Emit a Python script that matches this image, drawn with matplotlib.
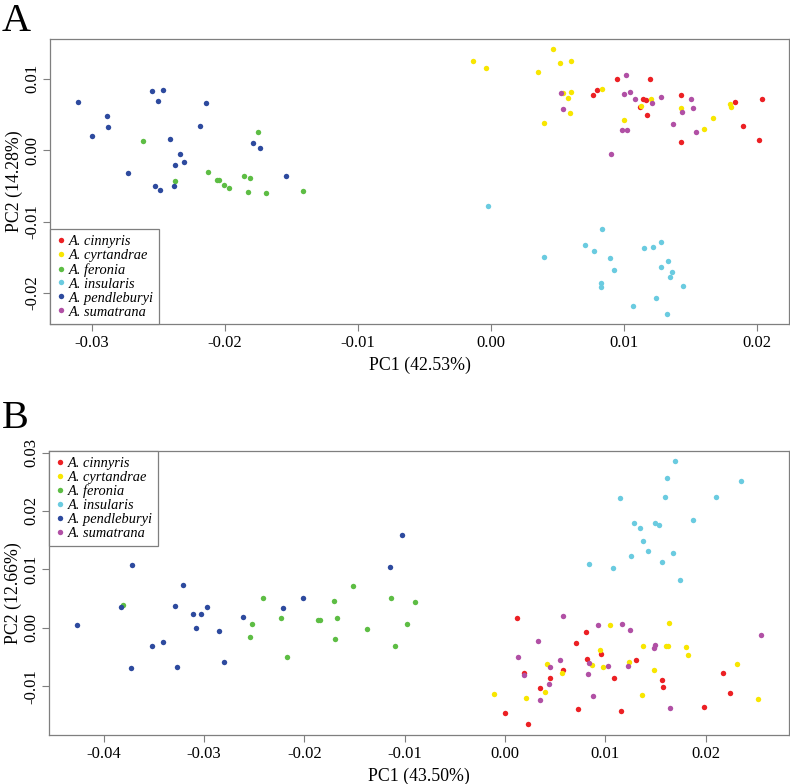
import matplotlib
matplotlib.use("Agg")
import matplotlib.pyplot as plt
from matplotlib.lines import Line2D

plt.rcParams['font.family'] = ['Liberation Serif', 'DejaVu Serif']

species = ['A. cinnyris', 'A. cyrtandrae', 'A. feronia',
           'A. insularis', 'A. pendleburyi', 'A. sumatrana']
colors = ['#EC2024', '#F8E600', '#5DBD44', '#6ACBE0', '#2D4A9E', '#B150A5']

# ---- panel A: (PC1, PC2) per species ----
a_cinnyris = [(0.00950, 0.00999), (0.01198, 0.00994), (0.00795, 0.00845), (0.00769, 0.00770),
              (0.01141, 0.00718), (0.01163, 0.00704), (0.01123, 0.00611), (0.01173, 0.00490),
              (0.01431, 0.00770), (0.01426, 0.00120), (0.01832, 0.00672), (0.02038, 0.00718),
              (0.01897, 0.00345), (0.02013, 0.00144)]
a_cyrtandrae = [(-0.00138, 0.01246), (-0.00038, 0.01148), (0.00468, 0.01415), (0.00519, 0.01223),
                (0.00604, 0.01255), (0.00353, 0.01097), (0.00602, 0.00817), (0.00544, 0.00798),
                (0.00579, 0.00728), (0.00832, 0.00854), (0.00592, 0.00518), (0.00401, 0.00382),
                (0.01203, 0.00714), (0.01128, 0.00616), (0.00998, 0.00424), (0.01431, 0.00597),
                (0.01671, 0.00448), (0.01604, 0.00303), (0.01799, 0.00648), (0.01805, 0.00602)]
a_feronia = [(-0.02617, 0.00130), (-0.01752, 0.00252), (-0.02126, -0.00308), (-0.02378, -0.00426),
             (-0.02058, -0.00420), (-0.02043, -0.00420), (-0.02005, -0.00486), (-0.01968, -0.00532),
             (-0.01855, -0.00364), (-0.01812, -0.00392), (-0.01825, -0.00584), (-0.01689, -0.00594),
             (-0.01416, -0.00570)]
a_insularis = [(-0.00020, -0.00780), (0.00837, -0.01098), (0.00705, -0.01331), (0.00774, -0.01410),
               (0.00398, -0.01499), (0.00892, -0.01513), (0.00927, -0.01681), (0.00825, -0.01859),
               (0.00829, -0.01915), (0.01148, -0.01364), (0.01216, -0.01354), (0.01280, -0.01289),
               (0.01331, -0.01550), (0.01278, -0.01639), (0.01361, -0.01709), (0.01344, -0.01779),
               (0.01441, -0.01901), (0.01238, -0.02073), (0.01065, -0.02176), (0.01321, -0.02288)]
a_pendleburyi = [(-0.03108, 0.00676), (-0.02549, 0.00831), (-0.02464, 0.00849), (-0.02502, 0.00686),
                 (-0.02145, 0.00658), (-0.02885, 0.00480), (-0.02877, 0.00326), (-0.02998, 0.00196),
                 (-0.02186, 0.00340), (-0.02411, 0.00154), (-0.01787, 0.00106), (-0.01735, 0.00032),
                 (-0.02336, -0.00052), (-0.02308, -0.00168), (-0.02376, -0.00202), (-0.02732, -0.00314),
                 (-0.01544, -0.00364), (-0.02524, -0.00500), (-0.02489, -0.00560), (-0.02383, -0.00496)]
a_sumatrana = [(0.01015, 0.01050), (0.00529, 0.00807), (0.00544, 0.00574), (0.01000, 0.00784),
               (0.01045, 0.00817), (0.01080, 0.00723), (0.01208, 0.00658), (0.01276, 0.00747),
               (0.01504, 0.00718), (0.01521, 0.00592), (0.01436, 0.00532), (0.01368, 0.00373),
               (0.01541, 0.00261), (0.00987, 0.00280), (0.01025, 0.00289), (0.00900, -0.00048)]

# ---- panel B ----
b_cinnyris = [(0.00123, 0.00171), (0.00808, -0.00079), (0.00705, -0.00256), (0.00960, -0.00450),
              (0.00821, -0.00540), (0.01303, -0.00557), (0.00578, -0.00723), (0.00192, -0.00769),
              (0.00452, -0.00865), (0.01090, -0.00860), (0.00349, -0.01026), (0.01568, -0.00894),
              (0.01575, -0.01019), (0.02170, -0.00769), (0.02246, -0.01121), (0.01984, -0.01356),
              (0.00725, -0.01395), (0.01157, -0.01429), (0.00000, -0.01463), (0.00232, -0.01651)]
b_cyrtandrae = [(0.01044, 0.00046), (0.01632, 0.00075), (0.00944, -0.00381), (0.01373, -0.00313),
                (0.01602, -0.00313), (0.01622, -0.00308), (0.01805, -0.00325), (0.01825, -0.00462),
                (0.01233, -0.00586), (0.00419, -0.00626), (0.00864, -0.00632), (0.00977, -0.00672),
                (0.00571, -0.00779), (0.01486, -0.00723), (0.02313, -0.00621), (0.00396, -0.01094),
                (0.00206, -0.01197), (-0.00113, -0.01138), (0.01363, -0.01156), (0.02519, -0.01219)]
b_feronia = [(-0.03806, 0.00388), (-0.02416, 0.00513), (-0.02522, 0.00058), (-0.02542, -0.00154),
             (-0.02233, 0.00171), (-0.02171, -0.00506), (-0.01861, 0.00126), (-0.01847, 0.00137),
             (-0.01708, 0.00456), (-0.01675, 0.00171), (-0.01692, -0.00188), (-0.01518, 0.00708),
             (-0.01379, -0.00027), (-0.01137, 0.00513), (-0.01097, -0.00313), (-0.00900, 0.00444),
             (-0.00974, 0.00068)]
b_insularis = [(0.01698, 0.02855), (0.01615, 0.02564), (0.02346, 0.02508), (0.01150, 0.02222),
               (0.01592, 0.02246), (0.02104, 0.02239), (0.01871, 0.01841), (0.01283, 0.01802),
               (0.01349, 0.01716), (0.01499, 0.01790), (0.01538, 0.01756), (0.01376, 0.01487),
               (0.01429, 0.01316), (0.01678, 0.01272), (0.01259, 0.01226), (0.01568, 0.01128),
               (0.00834, 0.01089), (0.01074, 0.01021), (0.01742, 0.00827)]
b_pendleburyi = [(-0.04267, 0.00046), (-0.03716, 0.01077), (-0.03822, 0.00354), (-0.03283, 0.00371),
                 (-0.03207, 0.00735), (-0.03108, 0.00229), (-0.03031, 0.00229), (-0.02971, 0.00349),
                 (-0.03078, -0.00005), (-0.02848, -0.00062), (-0.02802, -0.00591), (-0.02609, 0.00178),
                 (-0.02210, 0.00332), (-0.02017, 0.00513), (-0.03513, -0.00318), (-0.03407, -0.00239),
                 (-0.03722, -0.00689), (-0.03263, -0.00667), (-0.01144, 0.01043), (-0.01030, 0.01597)]
b_sumatrana = [(0.00578, 0.00200), (0.00927, 0.00051), (0.01164, 0.00063), (0.01249, -0.00044),
               (0.00332, -0.00232), (0.01493, -0.00296), (0.01486, -0.00352), (0.02555, -0.00130),
               (0.00127, -0.00496), (0.00545, -0.00557), (0.00834, -0.00598), (0.00446, -0.00667),
               (0.01027, -0.00660), (0.01226, -0.00650), (0.00186, -0.00809), (0.00831, -0.00791),
               (0.00442, -0.00957), (0.00346, -0.01231), (0.00874, -0.01168), (0.01645, -0.01368)]

a_xticks = [-0.03, -0.02, -0.01, 0.00, 0.01, 0.02]
a_yticks = [-0.02, -0.01, 0.00, 0.01]
b_xticks = [-0.04, -0.03, -0.02, -0.01, 0.00, 0.01, 0.02]
b_yticks = [-0.01, 0.00, 0.01, 0.02, 0.03]

GRAY = '#7f7f7f'


def draw_panel(ax, groups, xticks, yticks, xlim, ylim, xlabel, ylabel, legend_loc):
    for pts, c in zip(groups, colors):
        xs = [p[0] for p in pts]
        ys = [p[1] for p in pts]
        ax.plot(xs, ys, 'o', color=c, ms=3.9, mec='none', zorder=3)
    ax.set_xlim(*xlim)
    ax.set_ylim(*ylim)
    ax.set_xticks(xticks)
    ax.set_xticklabels([f'{t:.2f}' for t in xticks], fontsize=12)
    ax.set_yticks(yticks)
    ax.set_yticklabels([f'{t:.2f}' for t in yticks], fontsize=12,
                       rotation=90, va='center')
    ax.tick_params(direction='out', length=5, width=0.8, color=GRAY, pad=3)
    ax.tick_params(axis='y', pad=2)
    for s in ax.spines.values():
        s.set_color(GRAY)
        s.set_linewidth(0.9)
    ax.set_xlabel(xlabel, fontsize=12.8, labelpad=4)
    ax.set_ylabel(ylabel, fontsize=12.8, labelpad=1)

    handles = [Line2D([], [], marker='o', ls='none', color=c, ms=3.9, mec='none')
                for c in colors]
    leg = ax.legend(handles, species, loc=legend_loc, borderaxespad=0,
                    prop={'family': 'Liberation Serif', 'style': 'italic', 'size': 10.4},
                    handlelength=0.8, handletextpad=0.1, labelspacing=0.06,
                    borderpad=0.38, fancybox=False, framealpha=1)
    leg.get_frame().set_edgecolor(GRAY)
    leg.get_frame().set_linewidth(0.9)


fig = plt.figure(figsize=(7.9, 7.84), dpi=100)
ax_a = fig.add_axes([50 / 790, 1 - 324 / 784, 739 / 790, 285 / 784])
ax_b = fig.add_axes([49 / 790, 1 - 735 / 784, 740 / 790, 284 / 784])

draw_panel(ax_a,
           [a_cinnyris, a_cyrtandrae, a_feronia, a_insularis, a_pendleburyi, a_sumatrana],
           a_xticks, a_yticks, (-0.03316, 0.0224), (-0.02433, 0.01559),
           'PC1 (42.53%)', 'PC2 (14.28%)', 'lower left')
draw_panel(ax_b,
           [b_cinnyris, b_cyrtandrae, b_feronia, b_insularis, b_pendleburyi, b_sumatrana],
           b_xticks, b_yticks, (-0.04543, 0.02829), (-0.01834, 0.03026),
           'PC1 (43.50%)', 'PC2 (12.66%)', 'upper left')

fig.text(2 / 790, 1 - 31 / 784, 'A', fontsize=29, ha='left', va='baseline')
fig.text(2 / 790, 1 - 428 / 784, 'B', fontsize=29, ha='left', va='baseline')

fig.savefig('out.png', dpi=100)
